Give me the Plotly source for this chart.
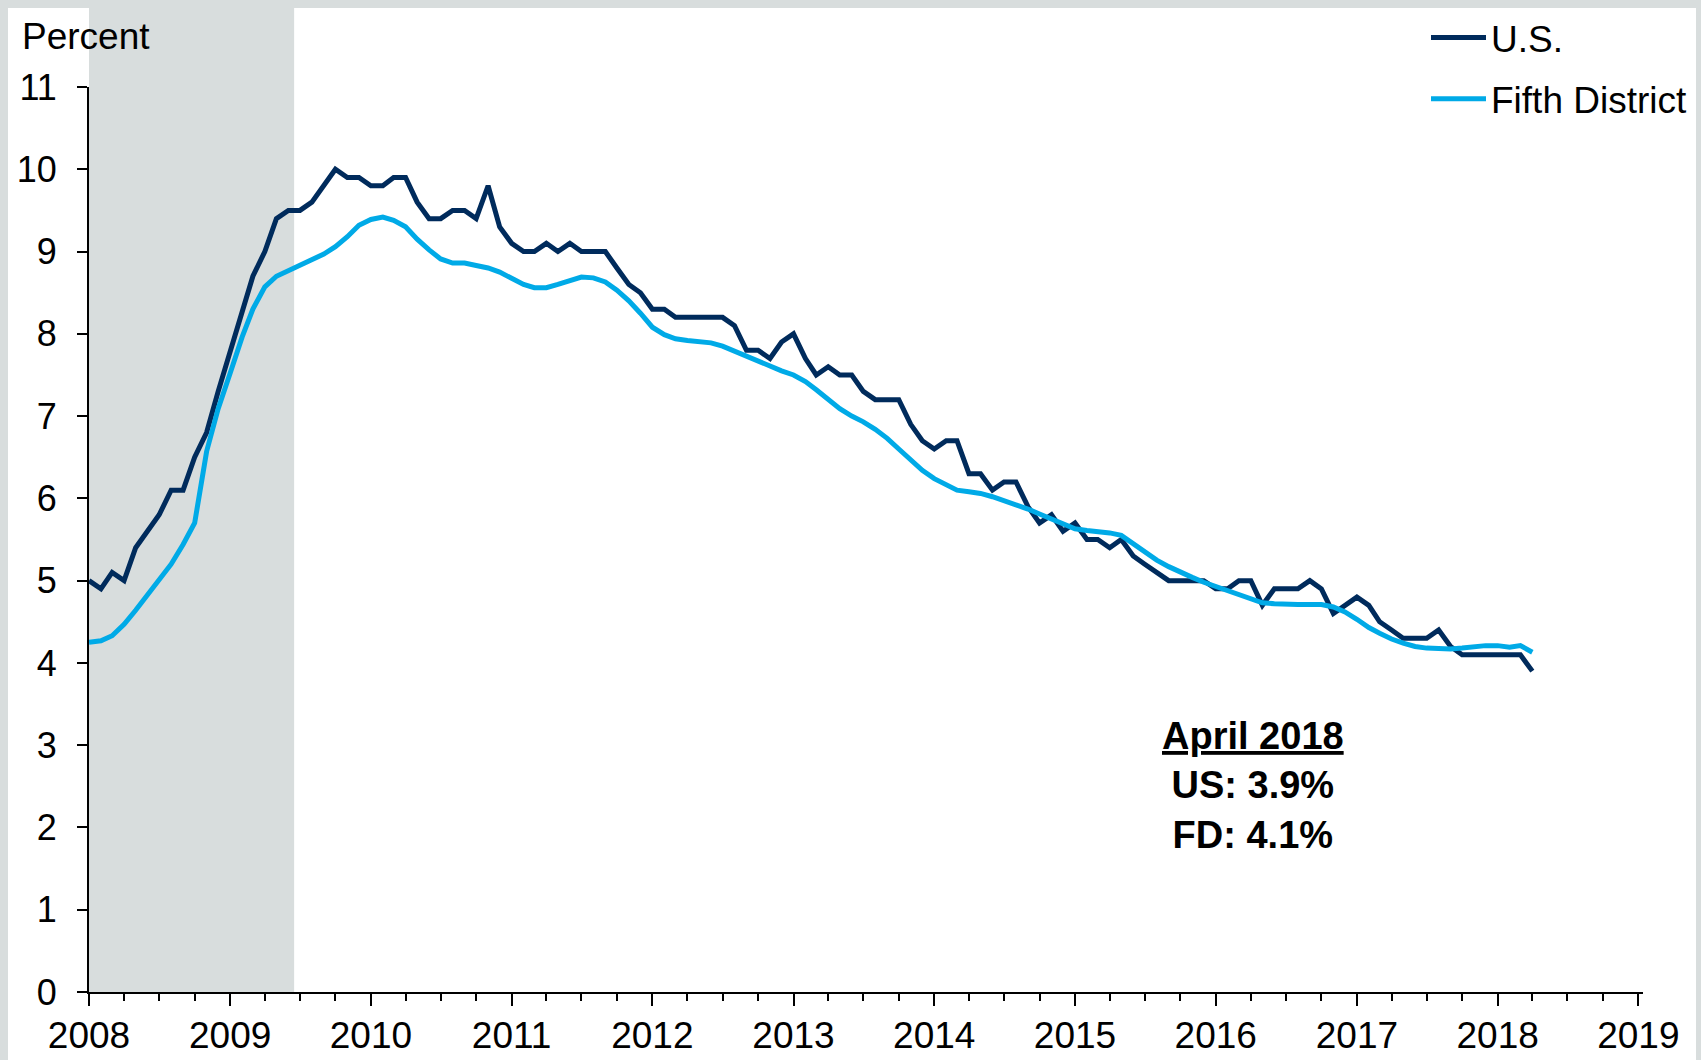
import pandas as pd
import plotly.graph_objects as go

# ---- data (monthly, Jan 2008 - Apr 2018), percent ----
months = pd.date_range("2008-01-01", "2018-04-01", freq="MS").strftime("%Y-%m-%d").tolist()

us_rate = [
    5.0, 4.9, 5.1, 5.0, 5.4, 5.6, 5.8, 6.1, 6.1, 6.5, 6.8, 7.3,   # 2008
    7.8, 8.3, 8.7, 9.0, 9.4, 9.5, 9.5, 9.6, 9.8, 10.0, 9.9, 9.9,  # 2009
    9.8, 9.8, 9.9, 9.9, 9.6, 9.4, 9.4, 9.5, 9.5, 9.4, 9.8, 9.3,   # 2010
    9.1, 9.0, 9.0, 9.1, 9.0, 9.1, 9.0, 9.0, 9.0, 8.8, 8.6, 8.5,   # 2011
    8.3, 8.3, 8.2, 8.2, 8.2, 8.2, 8.2, 8.1, 7.8, 7.8, 7.7, 7.9,   # 2012
    8.0, 7.7, 7.5, 7.6, 7.5, 7.5, 7.3, 7.2, 7.2, 7.2, 6.9, 6.7,   # 2013
    6.6, 6.7, 6.7, 6.3, 6.3, 6.1, 6.2, 6.2, 5.9, 5.7, 5.8, 5.6,   # 2014
    5.7, 5.5, 5.5, 5.4, 5.5, 5.3, 5.2, 5.1, 5.0, 5.0, 5.0, 5.0,   # 2015
    4.9, 4.9, 5.0, 5.0, 4.7, 4.9, 4.9, 4.9, 5.0, 4.9, 4.6, 4.7,   # 2016
    4.8, 4.7, 4.5, 4.4, 4.3, 4.3, 4.3, 4.4, 4.2, 4.1, 4.1, 4.1,   # 2017
    4.1, 4.1, 4.1, 3.9,                                           # 2018
]

fd_rate = [
    4.25, 4.27, 4.33, 4.47, 4.64, 4.83, 5.01, 5.20, 5.44, 5.70, 6.57, 7.09,  # 2008
    7.52, 7.96, 8.30, 8.57, 8.70, 8.77, 8.83, 8.90, 8.97, 9.06, 9.18, 9.32,  # 2009
    9.39, 9.42, 9.38, 9.30, 9.15, 9.02, 8.91, 8.86, 8.86, 8.83, 8.80, 8.75,  # 2010
    8.67, 8.60, 8.56, 8.56, 8.60, 8.64, 8.69, 8.68, 8.63, 8.53, 8.40, 8.25,  # 2011
    8.08, 7.99, 7.94, 7.92, 7.91, 7.89, 7.85, 7.79, 7.72, 7.66, 7.60, 7.55,  # 2012
    7.50, 7.42, 7.32, 7.20, 7.09, 7.00, 6.93, 6.84, 6.73, 6.60, 6.46, 6.34,  # 2013
    6.24, 6.16, 6.10, 6.08, 6.06, 6.02, 5.97, 5.93, 5.87, 5.81, 5.75, 5.68,  # 2014
    5.63, 5.61, 5.60, 5.58, 5.55, 5.45, 5.35, 5.25, 5.17, 5.10, 5.04, 4.98,  # 2015
    4.93, 4.88, 4.83, 4.78, 4.73, 4.72, 4.71, 4.71, 4.71, 4.71, 4.68, 4.62,  # 2016
    4.53, 4.43, 4.36, 4.29, 4.24, 4.20, 4.18, 4.17, 4.17, 4.18, 4.20, 4.21,  # 2017
    4.21, 4.19, 4.21, 4.13,                                                  # 2018
]

recession_start = "2007-12-16"
recession_end = "2009-06-16"

y_ticks = list(range(0, 12))
x_range = ["2008-01-01", "2019-01-13"]

series_names = ["U.S.", "Fifth District"]
series_colors = ["#002b5c", "#00aae7"]

annotation_lines = ["April 2018", "US: 3.9%", "FD: 4.1%"]

# ---- figure ----
FONT = "Liberation Sans, Arial, sans-serif"
BORDER = "#d8dddd"

fig = go.Figure()
for name, vals, col in zip(series_names, [us_rate, fd_rate], series_colors):
    fig.add_trace(go.Scatter(
        x=months, y=vals, name=name, mode="lines",
        line=dict(color=col, width=5),
        legendgroup=name,
    ))

W, H = 1701, 1060
ml, mr, mt, mb = 89, 58, 87, 68
pw = W - ml - mr
ph = H - mt - mb


def px_x(px):
    return (px - ml) / pw


def px_y(py):
    return (H - mb - py) / ph


# white panel on grey frame
fig.add_shape(type="rect", xref="paper", yref="paper",
              x0=px_x(8), x1=px_x(1696), y0=px_y(1065), y1=px_y(8),
              fillcolor="white", line_width=0, layer="below")
# recession shading
fig.add_shape(type="rect", xref="x", yref="paper",
              x0=recession_start, x1=recession_end, y0=0, y1=px_y(8),
              fillcolor=BORDER, line_width=0, layer="below")

fig.add_annotation(
    text="<b><u>" + annotation_lines[0] + "</u></b><br><b>" + annotation_lines[1]
         + "</b><br><b>" + annotation_lines[2] + "</b>",
    xref="paper", yref="paper", x=px_x(1253), y=px_y(785),
    xanchor="center", yanchor="middle", showarrow=False,
    font=dict(family=FONT, size=38, color="black"), align="center",
)
fig.add_annotation(
    text="Percent", xref="paper", yref="paper", x=px_x(20), y=px_y(37),
    xanchor="left", yanchor="middle", showarrow=False,
    font=dict(family=FONT, size=37, color="black"),
)

fig.update_layout(
    width=W, height=H,
    margin=dict(l=ml, r=mr, t=mt, b=mb, pad=0, autoexpand=False),
    paper_bgcolor=BORDER, plot_bgcolor="rgba(0,0,0,0)",
    font=dict(family=FONT, size=36, color="black"),
    showlegend=True,
    legend=dict(
        x=px_x(1426), y=px_y(7), xanchor="left", yanchor="top",
        bgcolor="rgba(0,0,0,0)", font=dict(family=FONT, size=37, color="black"),
        itemwidth=55, traceorder="grouped", tracegroupgap=10,
    ),
    xaxis=dict(
        type="date", range=x_range, showgrid=False, zeroline=False,
        showline=True, linecolor="black", linewidth=2,
        ticks="outside", ticklen=12, tickwidth=2, tickcolor="black",
        dtick="M12", tick0="2008-01-01", tickformat="%Y",
        tickfont=dict(family=FONT, size=37, color="black"),
        minor=dict(dtick="M3", ticks="outside", ticklen=7, tickwidth=2, tickcolor="black"),
        ticklabelstandoff=-2,
    ),
    yaxis=dict(
        range=[0, 11], tickvals=y_ticks, showgrid=False, zeroline=False,
        showline=True, linecolor="black", linewidth=2,
        ticks="outside", ticklen=10, tickwidth=2, tickcolor="black",
        tickfont=dict(family=FONT, size=36, color="black"),
        ticklabelstandoff=13,
    ),
)

fig.write_html(
    "out.html",
    config={"displayModeBar": False},
    post_script="document.body.style.margin='0px';"
                "document.body.style.overflow='hidden';",
)
